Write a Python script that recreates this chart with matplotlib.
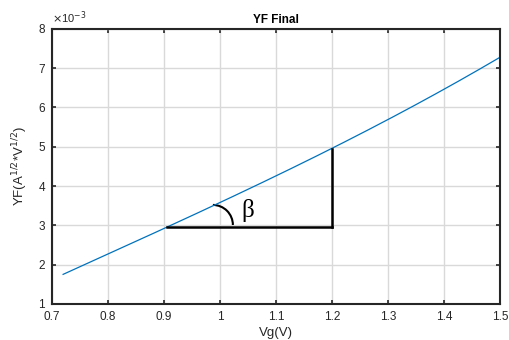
import matplotlib
matplotlib.use("Agg")
import matplotlib.pyplot as plt
from matplotlib.patches import Arc
import numpy as np

plt.rcParams['font.family'] = ['Liberation Sans', 'DejaVu Sans']

vg = [0.72, 0.8, 0.9, 1.0, 1.1, 1.2, 1.3, 1.4, 1.5]
yf = [1.75, 2.27, 2.93, 3.58, 4.25, 4.95, 5.70, 6.47, 7.27]  # x 1e-3

tri_x0, tri_x1 = 0.905, 1.2
tri_y0, tri_y1 = 2.95, 4.95

xticks = [0.7, 0.8, 0.9, 1.0, 1.1, 1.2, 1.3, 1.4, 1.5]
xticklabels = ['0.7', '0.8', '0.9', '1', '1.1', '1.2', '1.3', '1.4', '1.5']
yticks = [1, 2, 3, 4, 5, 6, 7, 8]

fig = plt.figure(figsize=(5.09, 3.4), dpi=100)
ax = fig.add_axes([0.102, 0.106, 0.880, 0.809])

xs = np.linspace(vg[0], vg[-1], 200)
coef = np.polyfit(vg, yf, 3)
ax.plot(xs, np.polyval(coef, xs), color='#0072BD', lw=0.9)

ax.plot([tri_x0, tri_x1], [tri_y0, tri_y0], color='black', lw=1.8)
ax.plot([tri_x1, tri_x1], [tri_y0, tri_y1], color='black', lw=1.8)
ax.add_patch(Arc((0.9875, 3.01), 2 * 0.0357, 2 * 0.51, theta1=0, theta2=90,
                 color='black', lw=1.5))
ax.text(1.05, 3.38, 'β', fontsize=18, family=['Liberation Serif', 'DejaVu Serif'],
        ha='center', va='center')

ax.set_xlim(0.7, 1.5)
ax.set_ylim(1, 8)
ax.set_xticks(xticks)
ax.set_xticklabels(xticklabels)
ax.set_yticks(yticks)
ax.grid(True, color='#d9d9d9', lw=1.0)
ax.set_axisbelow(True)
ax.tick_params(direction='in', top=True, right=True, labelsize=8.5, length=3,
               width=1.2, colors='#262626', pad=5)
for s in ax.spines.values():
    s.set_linewidth(1.5)
    s.set_color('#262626')

ax.set_xlabel('Vg(V)', fontsize=9.5, color='#262626', labelpad=3)
ax.set_ylabel('YF(A$^{1/2}$*V$^{1/2}$)', fontsize=9.5, color='#262626', labelpad=6)
ax.set_title('YF Final', fontsize=8.5, fontweight='bold', pad=4)
ax.text(0.0, 1.01, r'$\times$10$^{-3}$', transform=ax.transAxes, fontsize=8,
        color='#262626', ha='left', va='bottom')

fig.savefig('out.png', dpi=100)
